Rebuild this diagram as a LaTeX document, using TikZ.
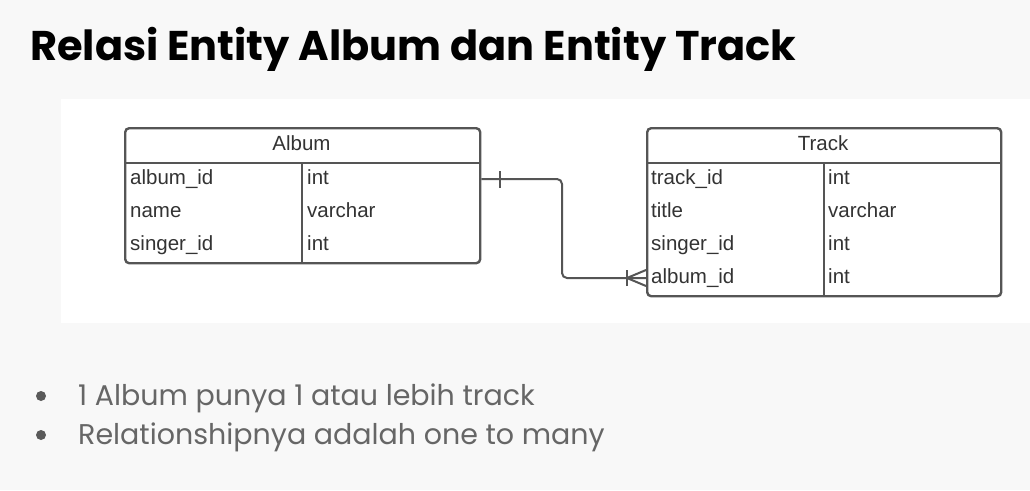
\documentclass[tikz,border=0pt]{standalone}
\usepackage{fontspec}
\setmainfont{Liberation Sans}
\newfontfamily\popfont{Poppins}
\definecolor{bg}{HTML}{F8F8F8}
\definecolor{ln}{HTML}{555555}
\definecolor{tx}{HTML}{333333}
\definecolor{bl}{HTML}{5A5A5A}
\definecolor{bt}{HTML}{666666}
\begin{document}
\begin{tikzpicture}[x=1pt,y=-1pt,
  tbl/.style={draw=ln,line width=2.4pt,rounded corners=4pt,anchor=north west,inner sep=0pt},
  cell/.style={anchor=base west,inner sep=0pt,text=tx,font=\fontsize{20.5}{24}\selectfont},
  hdr/.style={anchor=base,inner sep=0pt,text=tx,font=\fontsize{20.5}{24}\selectfont},
  rel/.style={draw=ln,line width=2pt},
  bullet/.style={circle,fill=bl,inner sep=0pt,minimum size=10pt},
  btxt/.style={anchor=base west,inner sep=0pt,text=bt,font=\popfont\fontsize{28.5}{32}\selectfont}]
\fill[bg] (0,0) rectangle (1030,490);
\useasboundingbox (0,0) rectangle (1030,490);
\fill[white] (61,99) rectangle (1030,323);
% title
\node[anchor=base west,inner sep=0pt,font=\popfont\bfseries\fontsize{41.5}{46}\selectfont] (title) at (30,60) {Relasi Entity Album dan Entity Track};
% Album table
\node[tbl,minimum width=355pt,minimum height=135pt] (album) at (124,127) {};
\draw[draw=ln,line width=2.4pt] (album.west |- 0,163) -- (album.east |- 0,163);
\draw[draw=ln,line width=2.4pt] (302,163) -- (302,262);
\node[hdr] (ah) at (301.5,150) {Album};
\node[cell] (a1) at (130,184) {album\_id};
\node[cell] (a2) at (130,217) {name};
\node[cell] (a3) at (130,250) {singer\_id};
\node[cell] (a1t) at (307,184) {int};
\node[cell] (a2t) at (307,217) {varchar};
\node[cell] (a3t) at (307,250) {int};
% Track table
\node[tbl,minimum width=354pt,minimum height=168pt] (track) at (646,127) {};
\draw[draw=ln,line width=2.4pt] (track.west |- 0,163) -- (track.east |- 0,163);
\draw[draw=ln,line width=2.4pt] (824,163) -- (824,295);
\node[hdr] (th) at (823,150) {Track};
\node[cell] (t1) at (651,184) {track\_id};
\node[cell] (t2) at (651,217) {title};
\node[cell] (t3) at (651,250) {singer\_id};
\node[cell] (t4) at (651,283) {album\_id};
\node[cell] (t1t) at (828,184) {int};
\node[cell] (t2t) at (828,217) {varchar};
\node[cell] (t3t) at (828,250) {int};
\node[cell] (t4t) at (828,283) {int};
% relation
\coordinate (s) at ([yshift=5pt]album.east |- a1.base);
\coordinate (e) at ([yshift=5pt]track.west |- t4.base);
\draw[rel,rounded corners=5pt] (s) -- (s -| 562,0) -- (e -| 562,0) -- (e);
\draw[rel] ([xshift=19pt,yshift=-8.5pt]s) -- ([xshift=19pt,yshift=8.5pt]s);
\draw[rel] ([xshift=-19pt,yshift=-8pt]e) -- ([xshift=-19pt,yshift=8pt]e);
\draw[rel] ([yshift=-8pt]e) -- ([xshift=-19pt]e) -- ([yshift=8pt]e);
% bullets
\node[bullet] (b1) at (41,396) {};
\node[bullet] (b2) at (41,435) {};
\node[btxt] (l1) at (78,405) {1 Album punya 1 atau lebih track};
\node[btxt] (l2) at (78,444) {Relationshipnya adalah one to many};
\end{tikzpicture}
\end{document}
